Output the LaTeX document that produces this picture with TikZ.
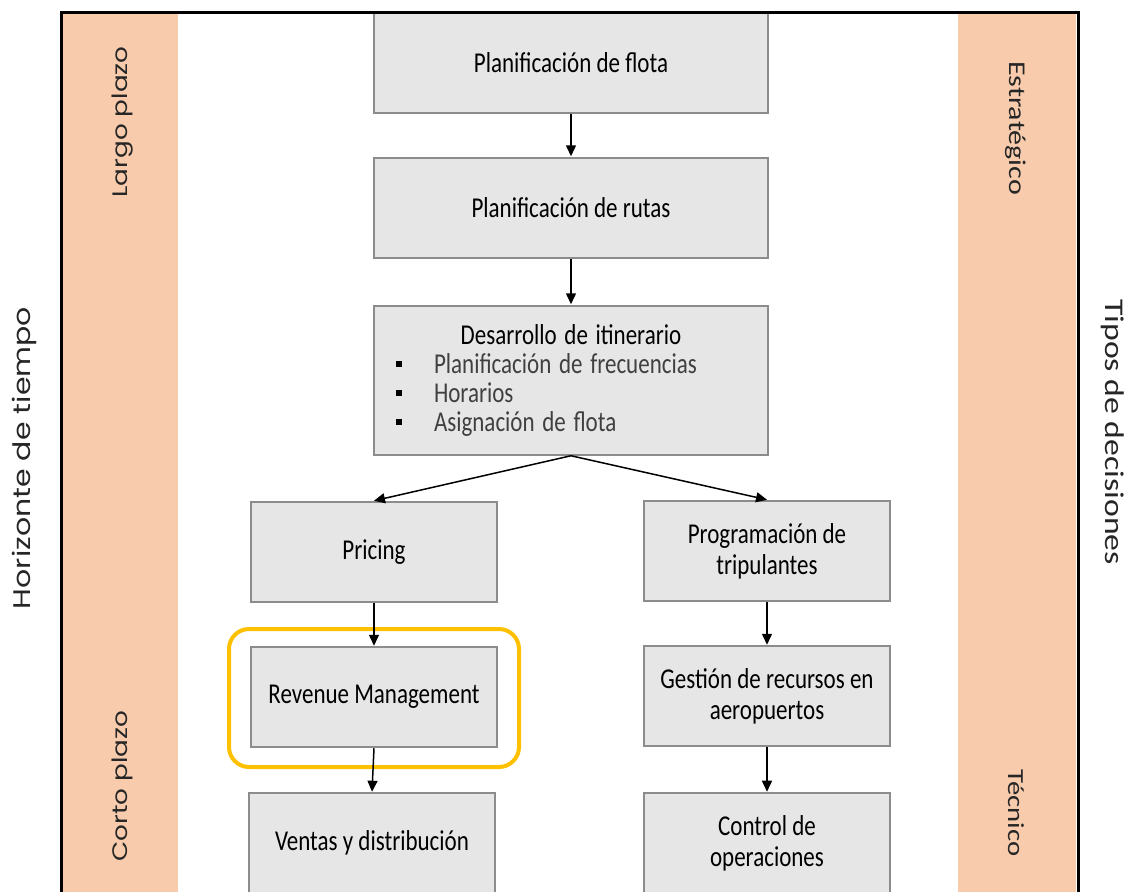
\documentclass[tikz,border=0pt]{standalone}
\usepackage{fontspec}
\setmainfont{Carlito}
\newfontfamily\gothicfont{Poppins}
\usetikzlibrary{arrows.meta}
\definecolor{bandpeach}{HTML}{F8CBAD}
\definecolor{boxfill}{HTML}{E7E6E6}
\definecolor{boxline}{HTML}{8C8C8C}
\definecolor{hlyellow}{HTML}{FFC000}
\definecolor{itemgray}{HTML}{404040}
\newcommand{\itm}[1]{\hspace*{11pt}\rule[0.22em]{3pt}{2.4pt}\hspace{16pt}\textcolor{itemgray}{#1}\par}
\begin{document}
\begin{tikzpicture}[x=0.5pt,y=-0.5pt,>={Triangle[length=5.5pt,width=5pt]},
	box/.style={draw=boxline,fill=boxfill,line width=1pt,minimum width=123pt,minimum height=40pt,inner sep=0pt,align=center,font=\fontsize{11.5}{12.4}\selectfont},
	widebox/.style={box,minimum width=197pt},
	sidel/.style={rotate=90,font=\gothicfont\fontsize{10.5}{12}\selectfont,text=black!85},
	sider/.style={rotate=-90,font=\fontsize{11.5}{13}\selectfont,text=black!85},
	arr/.style={->,line width=0.75pt}]
	\useasboundingbox (0,0) rectangle (1132,891);
	\fill[bandpeach] (63,13) rectangle (178,895);
	\fill[bandpeach] (958,13) rectangle (1076,895);
	\begin{scope}[y=-0.4pt,yscale=1.25,every node/.append style={transform shape}]
	\node[widebox] (flota) at (571,62.5) {Planificación de flota};
	\node[widebox] (rutas) at (571,207.5) {Planificación de rutas};
	\node[widebox,minimum height=59.6pt,text width=197pt,align=left,font=\fontsize{11.5}{11.6}\selectfont] (itin) at (571,380) {%
		{\centering Desarrollo de itinerario\par}
		\itm{Planificación de frecuencias}
		\itm{Horarios}
		\itm{Asignación de flota}};
	\node[box] (pricing) at (374,552) {Pricing};
	\node[box] (crew) at (767,551) {Programación de\\tripulantes};
	\node[box] (rm) at (374,697) {Revenue Management};
	\node[box] (airport) at (767,696) {Gestión de recursos en\\aeropuertos};
	\node[box] (sales) at (372,843) {Ventas y distribución};
	\node[box] (opscontrol) at (767,843) {Control de\\operaciones};
	\node[sidel] (largo) at (123,122) {Largo plazo};
	\node[sidel] (corto) at (122,786) {Corto plazo};
	\node[sidel,font=\gothicfont\fontsize{12}{14}\selectfont] (horizonte) at (24,458) {Horizonte de tiempo};
	\node[sider,font=\fontsize{12}{13}\selectfont] (estrategico) at (1016,128) {Estratégico};
	\node[sider] (tecnico) at (1016,813) {Técnico};
	\node[sider,font=\fontsize{13.5}{15}\selectfont] (tipos) at (1113,432) {Tipos de decisiones};
	\end{scope}
	\draw[hlyellow,line width=2pt,rounded corners=10pt] (229,629) rectangle (519,767);
	\draw[line width=1.5pt] (61,895) -- (61,12) -- (1078,12) -- (1078,895);
	\draw[arr] (flota) -- (rutas);
	\draw[arr] (rutas) -- (itin);
	\draw[arr] (itin.south) -- (pricing.north);
	\draw[arr] (itin.south) -- (crew.north);
	\draw[arr] (pricing) -- (rm);
	\draw[arr] (rm.south) -- (sales.north);
	\draw[arr] (crew) -- (airport);
	\draw[arr] (airport) -- (opscontrol);
\end{tikzpicture}
\end{document}
